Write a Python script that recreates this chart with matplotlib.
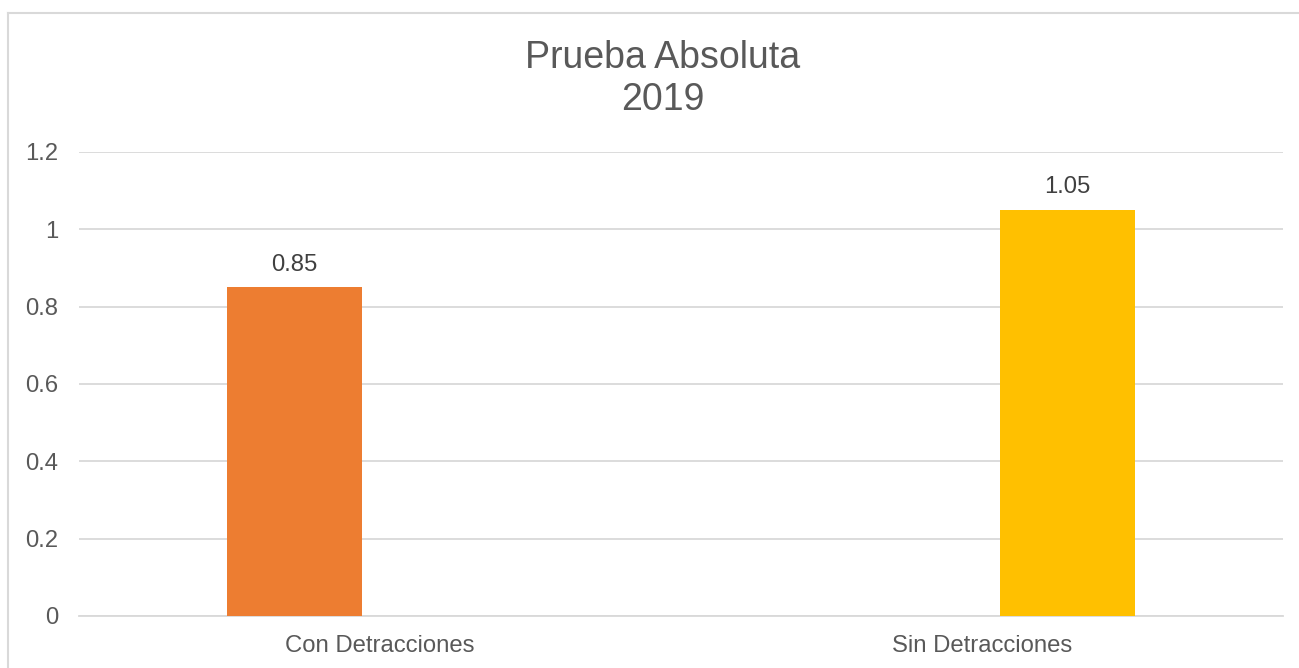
import matplotlib
matplotlib.use("Agg")
import matplotlib.pyplot as plt
from matplotlib.lines import Line2D

plt.rcParams['font.family'] = ['Liberation Sans', 'DejaVu Sans']

# data
categories = ["Con Detracciones", "Sin Detracciones"]
values = [0.85, 1.05]
colors = ["#ED7D31", "#FFC000"]
yticks = [0, 0.2, 0.4, 0.6, 0.8, 1, 1.2]
ytick_labels = ["0", "0.2", "0.4", "0.6", "0.8", "1", "1.2"]
title_lines = ["Prueba Absoluta", "2019"]

text_color = "#595959"
grid_color = "#D9D9D9"

W, H = 1299, 668
fig = plt.figure(figsize=(W / 100, H / 100), dpi=100)
ax = fig.add_axes([79 / W, 1 - 616 / H, (1283 - 79) / W, (616 - 152) / H])

# each series sits in its own slot of the clustered column
bar_width = 0.224
offsets = [-0.142, 0.142]
for i, (v, c) in enumerate(zip(values, colors)):
    x = i + offsets[i]
    ax.bar(x, v, width=bar_width, color=c, zorder=3)
    ax.annotate("{:.2f}".format(v), (x, v), xytext=(0, 12), textcoords="offset points",
                ha="center", va="baseline", fontsize=17.2, color="#404040")

ax.set_xlim(-0.5, 1.5)
ax.set_ylim(0, 1.2)
ax.set_xticks(range(len(categories)))
ax.set_xticklabels(categories)
ax.set_yticks(yticks)
ax.set_yticklabels(ytick_labels)
ax.tick_params(axis="both", length=0, labelsize=17.2, labelcolor=text_color)
ax.tick_params(axis="x", pad=14)
ax.tick_params(axis="y", pad=15)
ax.grid(axis="y", color=grid_color, linewidth=1.3, zorder=0)
for s in ["top", "right", "left"]:
    ax.spines[s].set_visible(False)
ax.spines["bottom"].set_color(grid_color)
ax.spines["bottom"].set_linewidth(1.3)

# two-line chart title
for line, base_y in zip(title_lines, [68, 110]):
    fig.text(663 / W, 1 - base_y / H, line, ha="center", va="baseline",
             fontsize=27, color=text_color)

# chart frame (only left and top edges fall inside the picture)
fig.add_artist(Line2D([7.5 / W, 7.5 / W], [0, 1 - 13 / H], transform=fig.transFigure,
                      color=grid_color, linewidth=1.5))
fig.add_artist(Line2D([7.5 / W, 1], [1 - 13 / H, 1 - 13 / H], transform=fig.transFigure,
                      color=grid_color, linewidth=1.5))

fig.savefig("out.png", dpi=100)
